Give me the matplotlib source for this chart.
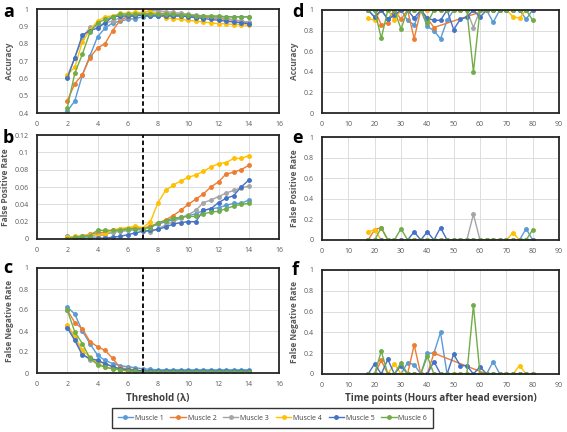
import numpy as np
import matplotlib
matplotlib.use("Agg")
import matplotlib.pyplot as plt
from matplotlib.ticker import FuncFormatter, MultipleLocator

plt.rcParams['font.family'] = ['Open Sans', 'DejaVu Sans']

muscles = ["Muscle 1", "Muscle 2", "Muscle 3", "Muscle 4", "Muscle 5", "Muscle 6"]
colors = ["#5B9BD5", "#ED7D31", "#A5A5A5", "#FFC000", "#4472C4", "#70AD47"]

threshold = [2, 2.5, 3, 3.5, 4, 4.5, 5, 5.5, 6, 6.5, 7, 7.5, 8, 8.5, 9, 9.5, 10,
             10.5, 11, 11.5, 12, 12.5, 13, 13.5, 14]

acc_m1 = [0.41, 0.47, 0.62, 0.73, 0.84, 0.89, 0.92, 0.93, 0.94, 0.945, 0.955, 0.96, 0.96, 0.96, 0.96, 0.96, 0.96, 0.955, 0.955, 0.955, 0.955, 0.955, 0.955, 0.955, 0.955]
acc_m2 = [0.47, 0.57, 0.62, 0.72, 0.775, 0.80, 0.875, 0.935, 0.955, 0.96, 0.97, 0.975, 0.975, 0.975, 0.97, 0.97, 0.965, 0.96, 0.955, 0.95, 0.945, 0.94, 0.935, 0.93, 0.92]
acc_m3 = [0.61, 0.72, 0.83, 0.895, 0.90, 0.92, 0.93, 0.95, 0.96, 0.97, 0.98, 0.99, 0.99, 0.985, 0.98, 0.975, 0.97, 0.965, 0.96, 0.955, 0.95, 0.945, 0.94, 0.93, 0.925]
acc_m4 = [0.62, 0.665, 0.81, 0.88, 0.93, 0.955, 0.96, 0.975, 0.975, 0.98, 0.98, 0.985, 0.97, 0.95, 0.945, 0.94, 0.935, 0.93, 0.925, 0.92, 0.915, 0.915, 0.91, 0.91, 0.905]
acc_m5 = [0.60, 0.72, 0.85, 0.875, 0.89, 0.92, 0.955, 0.96, 0.96, 0.96, 0.965, 0.96, 0.96, 0.96, 0.96, 0.96, 0.955, 0.95, 0.945, 0.94, 0.935, 0.93, 0.925, 0.92, 0.915]
acc_m6 = [0.43, 0.63, 0.74, 0.865, 0.92, 0.94, 0.955, 0.97, 0.97, 0.97, 0.97, 0.97, 0.97, 0.97, 0.97, 0.965, 0.965, 0.96, 0.96, 0.96, 0.96, 0.955, 0.955, 0.955, 0.955]

fpr_m1 = [0.003, 0.002, 0.003, 0.003, 0.004, 0.005, 0.008, 0.009, 0.010, 0.011, 0.012, 0.014, 0.017, 0.020, 0.022, 0.025, 0.027, 0.029, 0.033, 0.035, 0.036, 0.039, 0.041, 0.041, 0.045]
fpr_m2 = [0.002, 0.002, 0.003, 0.006, 0.007, 0.008, 0.010, 0.012, 0.012, 0.013, 0.012, 0.015, 0.018, 0.022, 0.027, 0.033, 0.040, 0.046, 0.052, 0.060, 0.066, 0.075, 0.077, 0.080, 0.085]
fpr_m3 = [0.002, 0.002, 0.003, 0.004, 0.005, 0.006, 0.008, 0.009, 0.010, 0.011, 0.010, 0.008, 0.012, 0.016, 0.020, 0.024, 0.028, 0.033, 0.042, 0.045, 0.049, 0.053, 0.056, 0.059, 0.061]
fpr_m4 = [0.002, 0.003, 0.004, 0.005, 0.004, 0.006, 0.010, 0.012, 0.013, 0.015, 0.013, 0.020, 0.042, 0.056, 0.062, 0.067, 0.071, 0.074, 0.078, 0.083, 0.087, 0.088, 0.093, 0.093, 0.096]
fpr_m5 = [0.0, 0.0, 0.001, 0.001, 0.001, 0.001, 0.002, 0.003, 0.005, 0.007, 0.009, 0.010, 0.011, 0.014, 0.017, 0.019, 0.020, 0.020, 0.033, 0.035, 0.042, 0.047, 0.050, 0.060, 0.068]
fpr_m6 = [0.0, 0.002, 0.003, 0.004, 0.010, 0.010, 0.010, 0.010, 0.012, 0.012, 0.012, 0.013, 0.019, 0.021, 0.024, 0.025, 0.026, 0.026, 0.029, 0.031, 0.032, 0.035, 0.038, 0.040, 0.041]

fnr_m1 = [0.63, 0.56, 0.40, 0.28, 0.17, 0.12, 0.09, 0.07, 0.06, 0.05, 0.04, 0.035, 0.03, 0.03, 0.03, 0.03, 0.03, 0.03, 0.03, 0.03, 0.03, 0.03, 0.03, 0.03, 0.03]
fnr_m2 = [0.60, 0.48, 0.42, 0.30, 0.25, 0.215, 0.14, 0.05, 0.04, 0.03, 0.02, 0.015, 0.01, 0.01, 0.01, 0.01, 0.01, 0.01, 0.01, 0.01, 0.01, 0.01, 0.01, 0.01, 0.01]
fnr_m3 = [0.45, 0.33, 0.19, 0.12, 0.11, 0.09, 0.06, 0.04, 0.03, 0.02, 0.015, 0.01, 0.01, 0.01, 0.01, 0.01, 0.01, 0.01, 0.01, 0.01, 0.01, 0.01, 0.01, 0.01, 0.01]
fnr_m4 = [0.46, 0.35, 0.22, 0.15, 0.09, 0.06, 0.04, 0.03, 0.02, 0.01, 0.005, 0.0, 0.0, 0.0, 0.0, 0.0, 0.0, 0.0, 0.0, 0.0, 0.0, 0.0, 0.0, 0.0, 0.0]
fnr_m5 = [0.43, 0.31, 0.17, 0.14, 0.12, 0.09, 0.06, 0.04, 0.03, 0.025, 0.02, 0.02, 0.02, 0.02, 0.02, 0.02, 0.02, 0.02, 0.02, 0.02, 0.02, 0.02, 0.02, 0.02, 0.02]
fnr_m6 = [0.60, 0.39, 0.28, 0.14, 0.08, 0.055, 0.04, 0.03, 0.02, 0.015, 0.01, 0.01, 0.01, 0.01, 0.01, 0.01, 0.01, 0.01, 0.01, 0.01, 0.01, 0.01, 0.01, 0.01, 0.01]

time_points = [17.5, 20, 22.5, 25, 27.5, 30, 32.5, 35, 37.5, 40, 42.5, 45, 47.5,
               50, 52.5, 55, 57.5, 60, 62.5, 65, 67.5, 70, 72.5, 75, 77.5, 80]
nan = float('nan')

tacc_m1 = [1, 0.93, 1, 0.91, 1, 1, 0.90, 0.855, 1, 0.84, 0.80, 0.72, 0.90, 1, 1, 1, 1, 1, 1, 0.88, 1, 1, 1, 1, 0.91, 1]
tacc_m2 = [1, 1, 0.855, 0.875, 1, 0.91, 1, 0.72, 1, 0.92, 0.83, nan, nan, nan, nan, nan, nan, nan, 1, 1, 1, 1, 1, 1, 1, 1]
tacc_m3 = [1, 1, 1, 1, 1, 1, 1, 1, 1, 1, 1, 1, 1, 1, 1, 1, 0.83, 1, 1, 1, 1, 1, 1, 1, 1, 1]
tacc_m4 = [0.92, 0.90, 1, 1, 0.90, 1, 1, 1, 1, 1, 1, 1, 1, 1, 1, 1, 1, 1, 1, 1, 1, 1, 0.935, 0.92, 1, 1]
tacc_m5 = [1, 0.93, 1, 0.91, 0.95, 1, 1, 0.92, 1, 0.92, 0.90, 0.90, 1, 0.81, 0.91, 0.93, 1, 0.93, 1, 1, 1, 1, 1, 1, 1, 1]
tacc_m6 = [1, 1, 0.725, 1, 1, 0.815, 1, 1, 1, 0.87, 1, 1, 1, 1, 1, 1, 0.40, 1, 1, 1, 1, 1, 1, 1, 1, 0.90]

tfpr_m1 = [0, 0, 0, 0, 0, 0, 0, 0, 0, 0, 0, 0, 0, 0, 0, 0, 0, 0, 0, 0, 0, 0, 0, 0, 0.11, 0]
tfpr_m2 = [0, 0.10, 0.12, 0, 0, 0, 0, 0, 0, 0, 0, nan, nan, nan, nan, nan, nan, nan, 0, 0, 0, 0, 0, 0, 0, 0]
tfpr_m3 = [0, 0, 0, 0, 0, 0, 0, 0, 0, 0, 0, 0, 0, 0, 0, 0, 0.25, 0, 0, 0, 0, 0, 0, 0, 0, 0]
tfpr_m4 = [0.08, 0.10, 0, 0, 0, 0, 0, 0, 0, 0, 0, 0, 0, 0, 0, 0, 0, 0, 0, 0, 0, 0, 0.07, 0, 0, 0]
tfpr_m5 = [0, 0, 0, 0, 0, 0, 0, 0.08, 0, 0.08, 0, 0.12, 0, 0, 0, 0, 0, 0, 0, 0, 0, 0, 0, 0, 0, 0]
tfpr_m6 = [0, 0, 0.12, 0, 0, 0.11, 0, 0, 0, 0, 0, 0, 0, 0, 0, 0, 0, 0, 0, 0, 0, 0, 0, 0, 0, 0.10]

tfnr_m1 = [0, 0, 0, 0, 0, 0, 0.11, 0.09, 0, 0.20, 0.20, 0.40, 0, 0, 0, 0, 0, 0, 0, 0.12, 0, 0, 0, 0, 0, 0]
tfnr_m2 = [0, 0, 0.13, 0, 0, 0, 0, 0.28, 0, 0, 0.20, nan, nan, nan, nan, nan, nan, nan, 0, 0, 0, 0, 0, 0, 0, 0]
tfnr_m3 = [0, 0, 0, 0, 0, 0, 0, 0, 0, 0, 0, 0, 0, 0, 0, 0, 0, 0, 0, 0, 0, 0, 0, 0, 0, 0]
tfnr_m4 = [0, 0, 0, 0, 0.10, 0, 0, 0, 0, 0, 0, 0, 0, 0, 0, 0, 0, 0, 0, 0, 0, 0, 0, 0.08, 0, 0]
tfnr_m5 = [0, 0.10, 0, 0.14, 0, 0.08, 0, 0, 0, 0, 0.12, 0, 0, 0.19, 0.08, 0.08, 0, 0.07, 0, 0, 0, 0, 0, 0, 0, 0]
tfnr_m6 = [0, 0, 0.22, 0, 0, 0.11, 0, 0, 0, 0.17, 0, 0, 0, 0, 0, 0, 0.66, 0, 0, 0, 0, 0, 0, 0, 0, 0]

W, H = 567, 432
fig = plt.figure(figsize=(W / 100, H / 100), dpi=100)


def px_axes(x0, y0, x1, y1):
    return fig.add_axes([x0 / W, 1 - y1 / H, (x1 - x0) / W, (y1 - y0) / H])


fmt = FuncFormatter(lambda v, p: ("%g" % round(v, 4)))


def style(ax, xlim, xstep, ylim, ystep, ylabel):
    ax.set_xlim(*xlim)
    ax.set_ylim(*ylim)
    ax.xaxis.set_major_locator(MultipleLocator(xstep))
    ax.yaxis.set_major_locator(MultipleLocator(ystep))
    ax.xaxis.set_major_formatter(fmt)
    ax.yaxis.set_major_formatter(fmt)
    ax.grid(True, color="#DDDDDD", lw=0.7)
    ax.set_axisbelow(True)
    ax.tick_params(length=0, labelsize=5, colors="#595959", pad=6)
    for s in ax.spines.values():
        s.set_color("#262626")
        s.set_linewidth(1.3)
    ax.set_ylabel(ylabel, fontsize=6, fontweight="bold", color="#595959", labelpad=3)


def draw(ax, x, series):
    x = np.asarray(x, float)
    for ys, c, name in zip(series, colors, muscles):
        y = np.asarray(ys, float)
        m = ~np.isnan(y)
        ax.plot(x[m], y[m], color=c, lw=1.0, marker="o", ms=2.5, label=name)


ax_a = px_axes(37, 9, 279, 113)
ax_b = px_axes(37, 135, 279, 239)
ax_c = px_axes(37, 268, 279, 373)
ax_d = px_axes(322, 10, 559, 113)
ax_e = px_axes(322, 137, 559, 240)
ax_f = px_axes(322, 270, 559, 374)

draw(ax_a, threshold, [acc_m1, acc_m2, acc_m3, acc_m4, acc_m5, acc_m6])
draw(ax_b, threshold, [fpr_m1, fpr_m2, fpr_m3, fpr_m4, fpr_m5, fpr_m6])
draw(ax_c, threshold, [fnr_m1, fnr_m2, fnr_m3, fnr_m4, fnr_m5, fnr_m6])
draw(ax_d, time_points, [tacc_m1, tacc_m2, tacc_m3, tacc_m4, tacc_m5, tacc_m6])
draw(ax_e, time_points, [tfpr_m1, tfpr_m2, tfpr_m3, tfpr_m4, tfpr_m5, tfpr_m6])
draw(ax_f, time_points, [tfnr_m1, tfnr_m2, tfnr_m3, tfnr_m4, tfnr_m5, tfnr_m6])

style(ax_a, (0, 16), 2, (0.4, 1), 0.1, "Accuracy")
style(ax_b, (0, 16), 2, (0, 0.12), 0.02, "False Positive Rate")
style(ax_c, (0, 16), 2, (0, 1), 0.2, "False Negative Rate")
style(ax_d, (0, 90), 10, (0, 1), 0.2, "Accuracy")
style(ax_e, (0, 90), 10, (0, 1), 0.2, "False Positive Rate")
style(ax_f, (0, 90), 10, (0, 1), 0.2, "False Negative Rate")

for ax in (ax_a, ax_b, ax_c):
    ax.axvline(7, color="black", lw=1.3, ls=(0, (2.5, 1.5)), zorder=5)

ax_c.set_xlabel("Threshold (λ)", fontsize=7, fontweight="bold", color="#404040", labelpad=3)
ax_f.set_xlabel("Time points (Hours after head eversion)", fontsize=7, fontweight="bold",
                color="#404040", labelpad=3)

for lab, (x, y) in zip("abcdef", [(3, 12), (3, 138), (3, 268), (292, 12), (292, 138), (292, 270)]):
    fig.text(x / W, 1 - y / H, lab, fontsize=13, fontweight="bold", va="center", ha="left")

handles, labels = ax_a.get_legend_handles_labels()
leg = fig.legend(handles, labels, loc="center", ncol=6,
                 bbox_to_anchor=(((115 + 430) / 2) / W, 1 - 418 / H),
                 fontsize=5, frameon=True, fancybox=False, edgecolor="black",
                 handlelength=2.2, columnspacing=1.0, handletextpad=0.25,
                 borderpad=0.9, borderaxespad=0)
leg.get_frame().set_linewidth(1.0)
for t in leg.get_texts():
    t.set_color("#404040")

fig.savefig("out.png", dpi=100)
